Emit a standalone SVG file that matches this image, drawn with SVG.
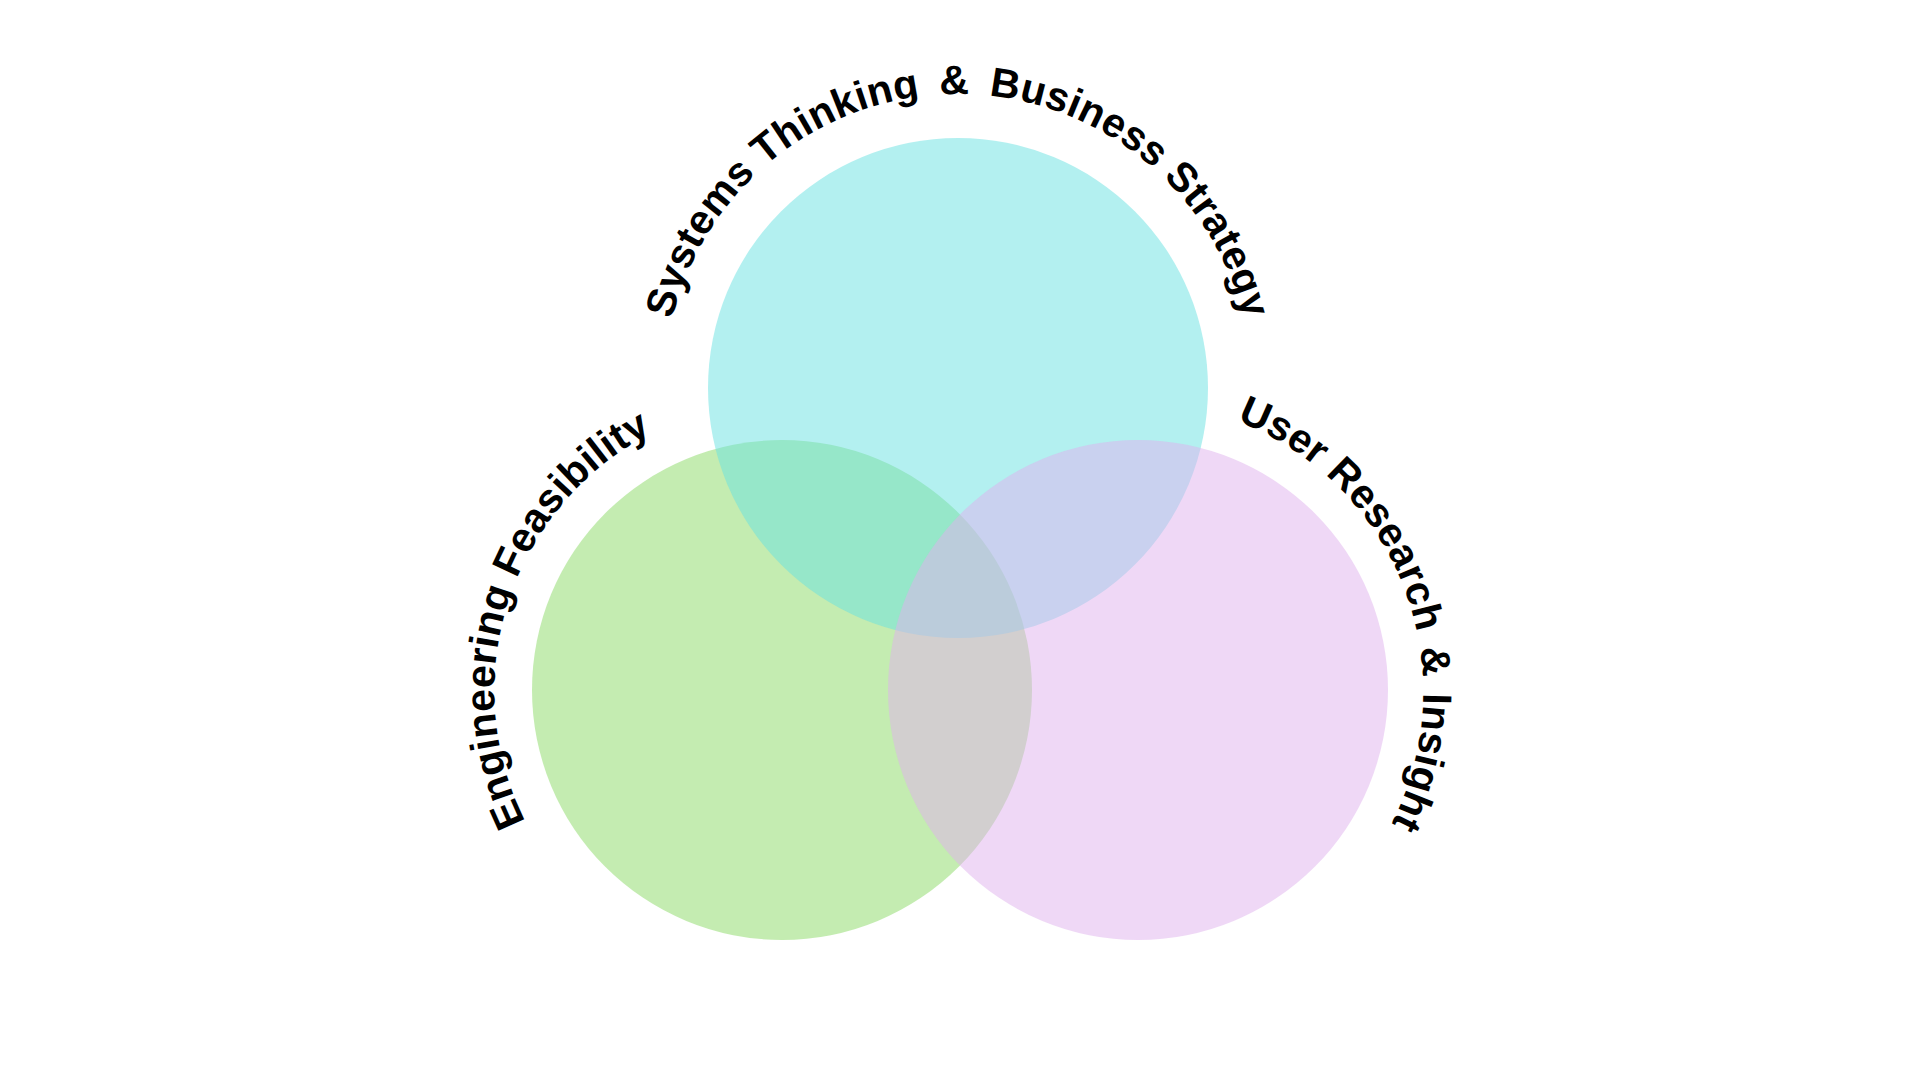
<svg xmlns="http://www.w3.org/2000/svg" xmlns:xlink="http://www.w3.org/1999/xlink" width="1920" height="1080" viewBox="0 0 1920 1080">
  <style>
    .set { fill-opacity: 0.5; stroke: none; }
    .lbl { font-family: "Liberation Sans", Arial, sans-serif; font-weight: 700; font-size: 41px; fill: #000; letter-spacing: 0.2px; }
  </style>
  <defs>
    <path id="arc-top" d="M 664 388 A 294 294 0 0 1 1252 388"/>
    <path id="arc-left" d="M 692.4 965.8 A 290 290 0 0 1 871.6 414.2"/>
    <path id="arc-right" d="M 1034.1 419.3 A 290 290 0 0 1 1241.9 960.7"/>
  </defs>
  <rect width="1920" height="1080" fill="#ffffff"/>
  <g id="engineering">
    <circle class="set" cx="782" cy="690" r="250" fill="#89d963"/>
    <text class="lbl" text-anchor="middle"><textPath xlink:href="#arc-left" href="#arc-left" startOffset="50%">Engineering Feasibility</textPath></text>
  </g>
  <g id="systems">
    <circle class="set" cx="958" cy="388" r="250" fill="#67e1e1"/>
    <text class="lbl" text-anchor="middle"><textPath xlink:href="#arc-top" href="#arc-top" startOffset="50%">Systems Thinking <tspan dx="8">&amp;</tspan> <tspan dx="8">Business Strategy</tspan></textPath></text>
  </g>
  <g id="user-research">
    <circle class="set" cx="1138" cy="690" r="250" fill="#e0b1ee"/>
    <text class="lbl" text-anchor="middle"><textPath xlink:href="#arc-right" href="#arc-right" startOffset="50%">User Research <tspan dx="4">&amp;</tspan> <tspan dx="4">Insight</tspan></textPath></text>
  </g>
</svg>
